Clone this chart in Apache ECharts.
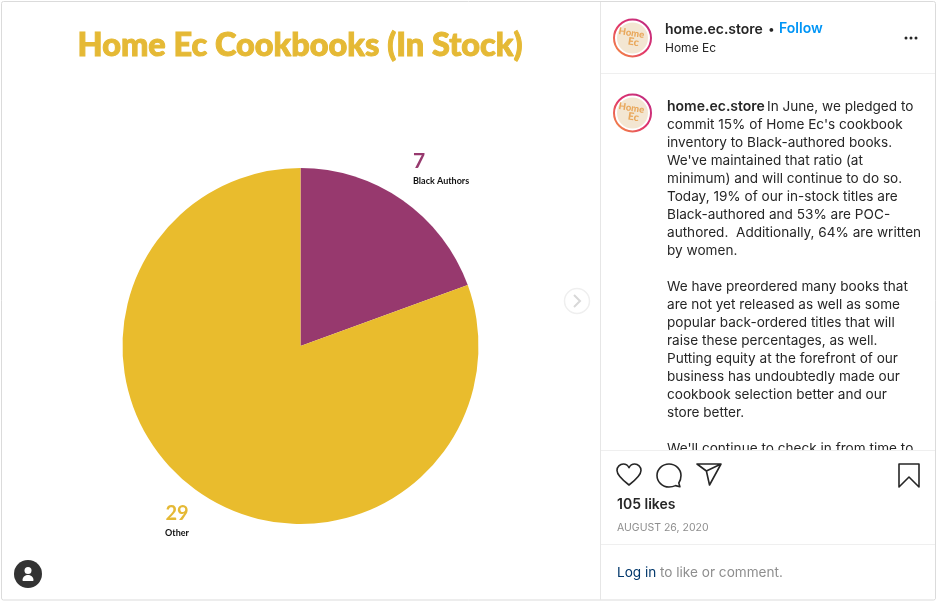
<!DOCTYPE html>
<html><head><meta charset="utf-8">
<style>html,body{margin:0;padding:0;background:#fff}#c{width:938px;height:602px}</style>
<script src="https://cdn.jsdelivr.net/npm/echarts@6/dist/echarts.min.js"></script>
</head><body><div id="c"></div>
<script>
const categories = ['Black Authors', 'Other'];
const values = [7, 29];
const colors = ['#97396E', '#E9BC2D'];
const chartTitle = 'Home Ec Cookbooks (In Stock)';
const caption1 = ['In June, we pledged to', "commit 15% of Home Ec's cookbook", 'inventory to Black-authored books.', "We've maintained that ratio (at", 'minimum) and will continue to do so.', 'Today, 19% of our in-stock titles are', 'Black-authored and 53% are POC-', 'authored.  Additionally, 64% are written', 'by women.'];
const caption2 = ['We have preordered many books that', 'are not yet released as well as some', 'popular back-ordered titles that will', 'raise these percentages, as well.', 'Putting equity at the forefront of our', 'business has undoubtedly made our', 'cookbook selection better and our', 'store better.'];
const caption3 = "We'll continue to check in from time to";
const SF = 'Inter, "Noto Sans", sans-serif';
const txt = (x, y, text, size, fill, weight, extra, z) => ({type:'text', x, y, z:z||5, style:Object.assign({text, font:(weight||400)+' '+size+'px '+SF, fill, verticalAlign:'middle'}, extra||{})});
const line = (x1,y1,x2,y2,c) => ({type:'line', z:6, shape:{x1,y1,x2,y2}, style:{stroke:c||'#e6e6e6', lineWidth:1}});
const icon = (d,x,y,w,h,extra) => ({type:'path', shape:{pathData:d, layout:'cover', x, y, width:w, height:h}, style:Object.assign({fill:'none', stroke:'#262626', lineWidth:1.6, lineJoin:'round'}, extra||{})});
function avatar(cx, cy){
  return [
    {type:'circle', z:6, shape:{cx, cy, r:18.5}, style:{fill:'none', lineWidth:2, stroke:new echarts.graphic.LinearGradient(0,1,1,0,[{offset:0,color:'#F9A13A'},{offset:.5,color:'#E0336C'},{offset:1,color:'#B52A86'}])}},
    {type:'circle', z:6, shape:{cx, cy, r:15.5}, style:{fill:'#F3E6D2'}},
    {type:'text', z:7, x:cx-1, y:cy-5, rotation:-0.15, style:{text:'Home', font:'900 9.5px Lato, sans-serif', fill:'#E9A85C', align:'center', verticalAlign:'middle'}},
    {type:'text', z:7, x:cx+1, y:cy+4, rotation:-0.15, style:{text:'Ec', font:'900 10.5px Lato, sans-serif', fill:'#E9A85C', align:'center', verticalAlign:'middle'}}
  ];
}
const g = [];
g.push({type:'rect', z:4, shape:{x:1.5,y:1.5,width:934,height:598.5,r:2}, style:{fill:'none', stroke:'#dbdbdb', lineWidth:1}});
g.push(line(600.5,2,600.5,600));
// sidebar head
g.push(...avatar(632.5,38), ...avatar(632.5,113));
g.push(txt(665,30,'home.ec.store',14,'#262626',600), txt(768,29,'•',12,'#262626',400), txt(779,29,'Follow',14,'#0095f6',600), txt(665,48,'Home Ec',12,'#262626',400));
[906,911,916].forEach(x=>g.push({type:'circle',z:6,shape:{cx:x,cy:38,r:1.5},style:{fill:'#262626'}}));
// caption
const CS = 13.6;
g.push(txt(667,107,'home.ec.store',14,'#262626',600), txt(767,107,caption1[0],CS,'#262626'));
caption1.slice(1).forEach((t,i)=>g.push(txt(667,125+18*i,t,CS,'#262626')));
caption2.forEach((t,i)=>g.push(txt(667,287+18*i,t,CS,'#262626')));
g.push(txt(667,449,caption3,CS,'#262626'));
g.push({type:'rect', z:5.5, shape:{x:601,y:451,width:334,height:148}, style:{fill:'#fff'}});
g.push(line(601,73.5,935,73.5,'#efefef'), line(601,450.5,935,450.5,'#efefef'), line(601,544.5,935,544.5,'#efefef'));
g.push(txt(617,505,'105 likes',14,'#262626',600,null,7));
g.push(txt(617,528,'AUGUST 26, 2020',10.5,'#8e8e8e',400,null,7));
g.push(txt(617,573,'Log in',13.6,'#00376b',400,null,7), txt(660,573,'to like or comment.',13.6,'#8e8e8e',400,null,7));
// carousel arrow
g.push({type:'circle',z:6,shape:{cx:577,cy:301,r:12.5},style:{fill:'#fff',stroke:'#efefef',lineWidth:1.5}});
g.push({type:'polyline',z:7,shape:{points:[[574,295],[580,301],[574,307]]},style:{fill:'none',stroke:'#d8d8d8',lineWidth:2}});
// person badge
g.push({type:'circle',z:6,shape:{cx:28,cy:574,r:14},style:{fill:'#333'}});
g.push({type:'circle',z:7,shape:{cx:28,cy:570.5,r:3.5},style:{fill:'#fff'}});

const icons = [
  icon('M12 21C5 15.5 1 11.5 1 7.5 1 4 3.7 1.5 6.8 1.5 9 1.5 11 2.8 12 5 13 2.8 15 1.5 17.2 1.5 20.3 1.5 23 4 23 7.5 23 11.5 19 15.5 12 21Z',617,464,24,21),
  icon('M22 19.5 23 23 19 22C17.3 22.8 15.5 23.3 13 23.3 6.9 23.3 2 18.4 2 12.5 2 6.6 6.9 1.7 13 1.7 19.1 1.7 24 6.6 24 12.5 24 15 23.3 17.5 22 19.5Z',657,464,24,23),
  icon('M1 2H24L10 9ZM10 9 13 23 24 2',697,464,24,21),
  icon('M1 1H21V24L11 14 1 24Z',899,464,20,23),
  icon('M0 6C0 2 3 0 5.5 0 8 0 11 2 11 6 11 7 10 7 9 7H2C1 7 0 7 0 6Z',22.5,575,11,6,{fill:'#fff',stroke:null,lineWidth:0})
];

const labelSpots = [{x:413, y:151, align:'left'}, {x:177, y:503, align:'center'}];
const labelOf = (name, value) => '{v|'+value+'}\n{n|'+name+'}';
const chart = echarts.init(document.getElementById('c'), null, {renderer:'canvas'});
chart.setOption({
  animation:false,
  backgroundColor:'#fff',
  title:{text:chartTitle, left:295, top:24, textAlign:'center', textStyle:{fontFamily:'Lato, sans-serif', fontWeight:900, fontSize:32.5, color:'#E5B935', textBorderColor:'#E5B935', textBorderWidth:1}},
  series:[{
    type:'pie', center:[300.5,346], radius:[0,178], startAngle:90, clockwise:true, silent:true,
    label:{show:true, position:'outside'},
    labelLine:{show:false},
    labelLayout: p => ({x:labelSpots[p.dataIndex].x, y:labelSpots[p.dataIndex].y, align:labelSpots[p.dataIndex].align, verticalAlign:'top'}),
    data: categories.map((name,i)=>({
      name, value:values[i], itemStyle:{color:colors[i]},
      label:{formatter:labelOf(name,values[i]), rich:{
        v:{fontFamily:'Lato, sans-serif', fontWeight:700, fontSize:i?20:21, color:i?'#E5B935':'#97396E', align:i?'center':'left', lineHeight:i?22:20},
        n:{fontFamily:'Lato, sans-serif', fontWeight:700, fontSize:9, color:'#111', align:i?'center':'left', lineHeight:i?16:20}
      }}
    }))
  },{
    type:'custom', coordinateSystem:'none', silent:true, z:10, data:[0],
    renderItem:()=>({type:'group', children:icons})
  }],
  graphic:{elements:g}
});
</script></body></html>
